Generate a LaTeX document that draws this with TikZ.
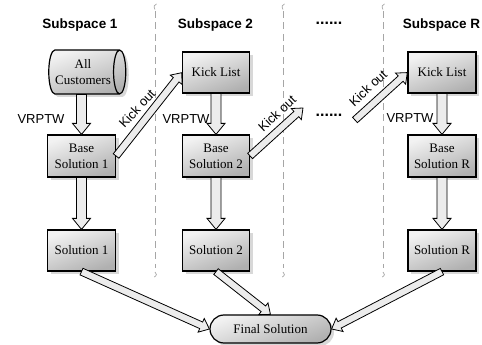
\documentclass[tikz,border=0pt]{standalone}
\usepackage{fontspec}
\setmainfont{Liberation Serif}
\newfontfamily\labelfont{Liberation Sans}
\usetikzlibrary{shapes.geometric,shapes.misc,shadows,calc}

% Arrow proportions: half shaft width, half head width, head length
\newcommand\arrowsize[3]{\def\baShaft{#1}\def\baHead{#2}\def\baTip{#3}}
\arrowsize{5}{9}{11}

% Hollow block arrow from #1 to #2 (shaft, then a wide head)
\newcommand\blockarrow[2]{%
  \path let \p1=(#1), \p2=(#2) in \pgfextra{%
    \pgfmathsetmacro\baAngle{atan2(\y2-\y1,\x2-\x1)}%
    \pgfmathsetmacro\baLen{veclen(\x2-\x1,\y2-\y1)}%
    \pgfmathsetmacro\baX{\x1}%
    \pgfmathsetmacro\baY{\y1}%
    \xdef\baAngle{\baAngle}\xdef\baLen{\baLen}%
    \xdef\baX{\baX}\xdef\baY{\baY}};
  \draw[bigarrow, shift={(\baX,\baY)}, rotate=\baAngle]
    (0,-\baShaft) -- ({\baLen-\baTip},-\baShaft) -- ({\baLen-\baTip},-\baHead)
    -- (\baLen,0) -- ({\baLen-\baTip},\baHead) -- ({\baLen-\baTip},\baShaft)
    -- (0,\baShaft) -- cycle;
}

\begin{document}
\begin{tikzpicture}[x=1pt,y=1pt,
  boxtext/.style={font=\fontsize{13}{16}\selectfont},
  shadowed/.style={drop shadow={shadow xshift=3pt, shadow yshift=-3pt,
                   fill=black!30, opacity=0.5}},
  shadedfill/.style={top color=gray!10, bottom color=gray!62, shading angle=20},
  box/.style={rectangle, draw=black, line width=1.2pt, shadedfill, shadowed,
              align=center, inner sep=1pt, boxtext},
  drum/.style={cylinder, shape border rotate=0, aspect=0.45, draw=black,
               line width=1.2pt, shadedfill, shadowed, align=center,
               inner sep=1pt, minimum width=44pt, minimum height=77pt, boxtext},
  pill/.style={rounded rectangle, draw=black, line width=1.2pt, shadedfill,
               shadowed, inner sep=1pt, boxtext},
  bigarrow/.style={draw=black, line width=0.8pt, fill=gray!15, line join=miter},
  title/.style={font=\labelfont\bfseries\fontsize{13.5}{16}\selectfont},
  dots/.style={font=\labelfont\bfseries\fontsize{16}{16}\selectfont},
  lbl/.style={font=\labelfont\fontsize{13}{15}\selectfont, inner sep=1pt},
  divider/.style={draw=gray!70, line width=1pt, dash pattern=on 7pt off 4.5pt},
  hook/.style={draw=gray!70, line width=0.7pt}
]
\useasboundingbox (0,0) rectangle (482,345);

% column separators
\foreach \x in {155,283,383} {
  \draw[divider] (\x,334) -- (\x,77);
  \draw[hook] (\x+1.5,341) .. controls (\x-1,341) and (\x-1.5,338) .. (\x,335.5);
  \draw[hook] (\x,73) .. controls (\x+2,72) and (\x+2,69) .. (\x-0.8,68);
}

% column titles
\node[title] (t1) at (80,320) {Subspace 1};
\node[title] (t2) at (215.5,320) {Subspace 2};
\node[dots] (tdots) at (329,322) {......};
\node[title] (tR) at (441.5,320) {Subspace R};

% subspace 1
\node[drum] (cust) at (83,273) {All\\Customers};
\node[box, minimum width=68pt, minimum height=42pt] (bs1) at (81.5,189) {Base\\Solution 1};
\node[box, minimum width=68pt, minimum height=41pt] (s1) at (81.5,94.5) {Solution 1};

% subspace 2
\node[box, minimum width=67pt, minimum height=41pt] (kl1) at (216,272.5) {Kick List};
\node[box, minimum width=67pt, minimum height=42pt] (bs2) at (216,189) {Base\\Solution 2};
\node[box, minimum width=67pt, minimum height=41pt] (s2) at (216,94.5) {Solution 2};

% subspace R
\node[box, minimum width=68pt, minimum height=41pt] (klR) at (442,272.5) {Kick List};
\node[box, minimum width=68pt, minimum height=42pt] (bsR) at (442,189) {Base\\Solution R};
\node[box, minimum width=68pt, minimum height=41pt] (sR) at (442,94.5) {Solution R};

% merged result
\node[pill, minimum width=123pt, minimum height=28pt] (fin) at (270.5,16) {Final Solution};

% free ends of the kick-out chain
\coordinate (k2) at (303,237);
\coordinate (k3) at (355,225);
\node[dots] (mdots) at (329,230) {......};

% vertical flow
\arrowsize{5}{9}{11}
\blockarrow{cust.south -| bs1.north}{bs1.north}
\blockarrow{bs1.south}{s1.north}
\blockarrow{kl1.south}{bs2.north}
\blockarrow{bs2.south}{s2.north}
\blockarrow{klR.south}{bsR.north}
\blockarrow{bsR.south}{sR.north}

% kick-out chain
\arrowsize{3.6}{7.5}{9}
\blockarrow{bs1.east}{kl1.west}
\blockarrow{bs2.east}{k2}
\blockarrow{k3}{klR.west}

% collection into the final solution
\blockarrow{s1.south}{fin.west}
\blockarrow{s2.south}{fin.north}
\blockarrow{sR.south}{fin.east}

% labels
\node[lbl] (v1) at (41,226) {VRPTW};
\node[lbl] (v2) at (186,226) {VRPTW};
\node[lbl] (v3) at (410,227) {VRPTW};
\node[lbl, rotate=47] (ko1) at (137,236.5) {Kick out};
\node[lbl, rotate=43] (ko2) at (277,231.5) {Kick out};
\node[lbl, rotate=43] (ko3) at (368,257) {Kick out};
\end{tikzpicture}
\end{document}
